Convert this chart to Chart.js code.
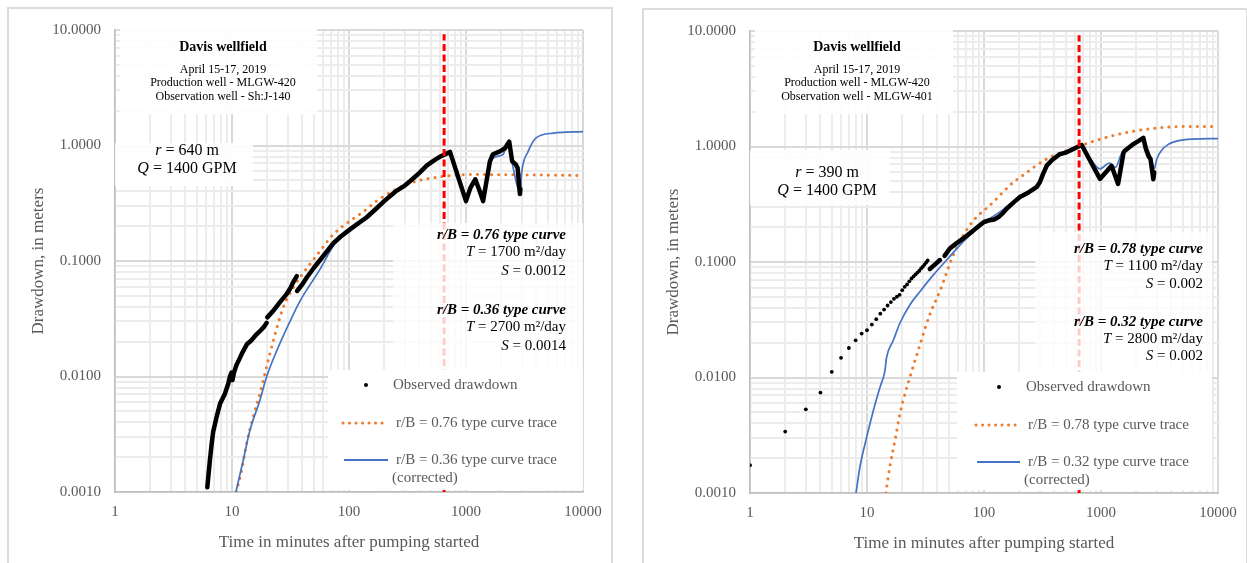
<!DOCTYPE html>
<html>
<head>
<meta charset="utf-8">
<title>Davis wellfield drawdown</title>
<script src="https://cdn.jsdelivr.net/npm/chart.js@4.4.1/dist/chart.umd.min.js"></script>
<style>
  html, body { margin: 0; padding: 0; background: #fff; }
  body { width: 1247px; height: 563px; overflow: hidden; position: relative; }
  .panel { position: absolute; width: 606px; height: 560px; }
  .frame { position: absolute; left: 0; top: 0; width: 606px; height: 560px; box-sizing: border-box; border: 2px solid #dcdcdc; }
  canvas { position: absolute; left: 0; top: 0; }
</style>
</head>
<body>
<div class="panel" style="left:7px; top:7px;"><div class="frame"></div><canvas id="chartShJ140" width="606" height="556"></canvas></div>
<div class="panel" style="left:642px; top:8px;"><div class="frame"></div><canvas id="chartMLGW401" width="606" height="556"></canvas></div>

<script>
// ---- axes ----
const xMajor = [1, 10, 100, 1000, 10000];
const yMajor = [0.001, 0.01, 0.1, 1, 10];

// ---- vertical marker (end of pumping) ----
const pumpStopT = [650, 650];
const pumpStopS = [0.001, 9.2];

// ---- Observation well Sh:J-140 (left) ----
const shObsT = [6.15, 6.27, 6.48, 6.7, 6.9, 7.4, 7.9, 8.7, 9.3, 9.6, 9.9, 10.1, 10.4, 10.9, 11.5, 12.3, 13.4, 14.6,
  16.2, 17.5, 18.6, 19.8, 19.9, 20.0, 22.5, 25.7, 29.4, 31.5, 33.5, 35.8, 35.9, 36.0, 40, 43.5, 50, 56.6, 65, 73.5,
  85, 100, 120, 141, 165, 200, 250, 300, 332, 400, 461, 530, 600, 680, 730, 1000, 1090, 1200, 1290, 1400, 1600,
  1700, 1950, 2160, 2340, 2480, 2650, 2760, 2890, 2920];
const shObsS = [0.0011, 0.00135, 0.0019, 0.0026, 0.0033, 0.0045, 0.0058, 0.0071, 0.0087, 0.0100, 0.0108, 0.0093,
  0.0108, 0.0125, 0.014, 0.0162, 0.019, 0.0205, 0.0232, 0.025, 0.0266, 0.0292, null, 0.0325, 0.037, 0.044, 0.052,
  0.058, 0.066, 0.074, null, 0.055, 0.063, 0.072, 0.087, 0.102, 0.122, 0.143, 0.163, 0.185, 0.212, 0.238, 0.275,
  0.33, 0.40, 0.45, 0.49, 0.58, 0.67, 0.74, 0.80, 0.85, 0.88, 0.33, 0.43, 0.51, 0.42, 0.33, 0.73, 0.84, 0.89,
  0.95, 1.08, 0.73, 0.69, 0.64, 0.38, 0.42];
const shDotT = [];
const shDotS = [];
const shTraceT = [10.9, 12.1, 13.3, 15.2, 17.3, 19.4, 22.6, 27.4, 33.5, 38.1, 46.4, 56.6, 73.5, 141, 172, 330, 640, 1150, 10000];
const shTraceS = [0.001, 0.00155, 0.0026, 0.0045, 0.0071, 0.0113, 0.0205, 0.0395, 0.059, 0.072, 0.094, 0.122, 0.17, 0.28, 0.33, 0.47, 0.54, 0.56, 0.55];
const shCorrT = [10.8, 12.5, 14.2, 17.3, 19.8, 24, 31.3, 38.1, 56.6, 73.5, 100, 141, 200, 250, 332, 461, 600, 700,
  1000, 1150, 1370, 1700, 2060, 2300, 2450, 2900, 3000, 3400, 3950, 5600, 10000];
const shCorrS = [0.001, 0.0019, 0.0034, 0.0062, 0.01, 0.0165, 0.030, 0.045, 0.085, 0.135, 0.18, 0.232, 0.33, 0.40,
  0.49, 0.67, 0.79, 0.85, 0.375, 0.49, 0.40, 0.78, 0.83, 1.05, 0.75, 0.40, 0.60, 0.89, 1.16, 1.28, 1.32];

// ---- Observation well MLGW-401 (right) ----
const mlDotT = [1, 2, 3, 4, 5, 6, 7, 8, 9, 10, 11, 12, 13, 14, 15, 16, 17, 18, 19, 20, 21, 22, 23, 24, 25, 26, 27, 28, 29, 30, 31, 32, 33];
const mlDotS = [0.00174, 0.0034, 0.0053, 0.0074, 0.0112, 0.0148, 0.018, 0.021, 0.024, 0.0257, 0.0287, 0.032, 0.0357,
  0.0387, 0.042, 0.045, 0.048, 0.050, 0.052, 0.057, 0.061, 0.064, 0.068, 0.072, 0.075, 0.078, 0.081, 0.084, 0.088,
  0.091, 0.095, 0.099, 0.103];
const mlObsT = [34.4, 38, 42, 44, 46, 51, 58, 66.5, 80, 92, 100, 112, 122, 133, 145, 156, 180, 203, 240, 281, 300,
  320, 344, 380, 446, 509, 580, 684, 980, 1230, 1400, 1560, 1600, 1890, 2100, 2300, 2420, 2540, 2650, 2800, 2850];
const mlObsS = [0.087, 0.095, 0.104, null, 0.113, 0.131, 0.145, 0.16, 0.185, 0.208, 0.222, 0.230, 0.233, 0.245, 0.265,
  0.289, 0.33, 0.365, 0.40, 0.444, 0.49, 0.58, 0.683, 0.76, 0.86, 0.89, 0.95, 1.03, 0.524, 0.68, 0.474, 0.89, 0.92,
  1.05, 1.12, 1.19, 0.95, 0.83, 0.78, 0.52, 0.60];
const mlTraceT = [14.5, 15.7, 17.4, 19.1, 21.1, 24.1, 28.4, 34.4, 42, 54.7, 75.6, 120, 178, 203, 344, 658, 1260, 2450, 5370, 9100];
const mlTraceS = [0.001, 0.0017, 0.0029, 0.0048, 0.0072, 0.0113, 0.0193, 0.035, 0.056, 0.115, 0.208, 0.33, 0.49, 0.54, 0.78, 1.01, 1.24, 1.41, 1.49, 1.49];
const mlCorrT = [8.05, 8.7, 9.9, 11.35, 12.9, 14.2, 14.7, 16.8, 19.1, 23.3, 28.4, 36.8, 47.9, 66.5, 92, 136, 180, 240,
  300, 344, 446, 580, 684, 800, 980, 1180, 1330, 1500, 1700, 2000, 2250, 2500, 2750, 2850, 3000, 3300, 3800, 4500, 6000, 10000];
const mlCorrS = [0.001, 0.00168, 0.003, 0.0052, 0.0082, 0.0113, 0.0149, 0.021, 0.0295, 0.0427, 0.0556, 0.077, 0.104,
  0.15, 0.208, 0.27, 0.335, 0.405, 0.50, 0.68, 0.86, 0.96, 1.02, 0.80, 0.64, 0.72, 0.66, 0.87, 0.98, 1.08, 1.17,
  0.96, 0.72, 0.64, 0.78, 0.93, 1.05, 1.12, 1.16, 1.17];

const serif = "'Liberation Serif', 'Times New Roman', serif";
const F = (style, size) => `${style} ${size}px ${serif}`.trim();
Chart.defaults.font.family = serif;

const toXY = (t, s) => t.map((v, i) => ({ x: v, y: s[i] }));
const decades = (majors) => majors.slice(0, -1)
  .flatMap(d => [1, 2, 3, 4, 5, 6, 7, 8, 9].map(k => d * k))
  .concat(majors[majors.length - 1]);

// text made of pieces with different fonts (italic symbols, bold italic headers)
function drawRich(ctx, parts, x, y, align) {
  let w = 0;
  parts.forEach(p => { ctx.font = p[1]; w += ctx.measureText(p[0]).width; });
  let cx = align === 'right' ? x - w : (align === 'center' ? x - w / 2 : x);
  parts.forEach(p => {
    ctx.font = p[1];
    ctx.fillText(p[0], cx, y);
    cx += ctx.measureText(p[0]).width;
  });
}

function notesPlugin(n) {
  return {
    id: 'notes',
    afterDatasetsDraw(chart) {
      const ctx = chart.ctx;
      ctx.save();
      n.boxes.forEach(b => {
        ctx.fillStyle = 'rgba(255,255,255,' + b[4] + ')';
        ctx.fillRect(b[0], b[1], b[2], b[3]);
      });
      ctx.textBaseline = 'middle';
      ctx.textAlign = 'left';
      n.lines.forEach(l => {
        ctx.fillStyle = l.color || '#000';
        drawRich(ctx, l.parts, l.x, l.y, l.align);
      });
      // legend samples
      const lg = n.legend;
      ctx.fillStyle = '#000';
      ctx.beginPath();
      ctx.arc(lg.dot[0], lg.dot[1], 2, 0, Math.PI * 2);
      ctx.fill();
      ctx.strokeStyle = '#ed7d31';
      ctx.lineWidth = 3;
      ctx.lineCap = 'round';
      ctx.setLineDash([0.1, 6.4]);
      ctx.beginPath();
      ctx.moveTo(lg.trace[0], lg.trace[2]);
      ctx.lineTo(lg.trace[1], lg.trace[2]);
      ctx.stroke();
      ctx.setLineDash([]);
      ctx.lineCap = 'butt';
      ctx.strokeStyle = '#4472c4';
      ctx.lineWidth = 1.8;
      ctx.beginPath();
      ctx.moveTo(lg.corr[0], lg.corr[2]);
      ctx.lineTo(lg.corr[1], lg.corr[2]);
      ctx.stroke();
      ctx.restore();
    }
  };
}

function notesFor(o) {
  const c = o.cx, g = '#595959';
  return {
    boxes: o.boxes,
    legend: o.legend,
    lines: [
      { x: c, y: o.ty, align: 'center', parts: [['Davis wellfield', F('bold', 14)]] },
      { x: c, y: o.ty + 23, align: 'center', parts: [['April 15-17, 2019', F('', 12)]] },
      { x: c, y: o.ty + 36, align: 'center', parts: [['Production well - MLGW-420', F('', 12)]] },
      { x: c, y: o.ty + 50, align: 'center', parts: [['Observation well - ' + o.well, F('', 12)]] },
      { x: o.rx, y: o.ry, align: 'center', parts: [['r', F('italic', 16)], [' = ' + o.r + ' m', F('', 16)]] },
      { x: o.rx, y: o.ry + 18, align: 'center', parts: [['Q', F('italic', 16)], [' = 1400 GPM', F('', 16)]] },
      { x: o.ax, y: o.ay[0], align: 'right', parts: [['r/B = ' + o.rb1 + ' type curve', F('italic bold', 15)]] },
      { x: o.ax, y: o.ay[1], align: 'right', parts: [['T', F('italic', 15)], [' = ' + o.T1 + ' m²/day', F('', 15)]] },
      { x: o.ax, y: o.ay[2], align: 'right', parts: [['S', F('italic', 15)], [' = ' + o.S1, F('', 15)]] },
      { x: o.ax, y: o.ay[3], align: 'right', parts: [['r/B = ' + o.rb2 + ' type curve', F('italic bold', 15)]] },
      { x: o.ax, y: o.ay[4], align: 'right', parts: [['T', F('italic', 15)], [' = ' + o.T2 + ' m²/day', F('', 15)]] },
      { x: o.ax, y: o.ay[5], align: 'right', parts: [['S', F('italic', 15)], [' = ' + o.S2, F('', 15)]] },
      { x: o.legend.dot[0] + 27, y: o.legend.dot[1], color: g, parts: [['Observed drawdown', F('', 15)]] },
      { x: o.legend.trace[1] + 9, y: o.legend.trace[2], color: g, parts: [['r/B = ' + o.rb1 + ' type curve trace', F('', 15)]] },
      { x: o.legend.corr[1] + 8, y: o.legend.corr[2], color: g, parts: [['r/B = ' + o.rb2 + ' type curve trace', F('', 15)]] },
      { x: o.legend.corr[1] + 4, y: o.legend.corr[2] + 18, color: g, parts: [['(corrected)', F('', 15)]] }
    ]
  };
}

function buildChart(id, d) {
  const xGrid = decades(xMajor);
  const yGrid = decades(yMajor);
  const gridColor = majors => c => majors.includes(c.tick.value) ? '#d9d9d9' : '#ececec';
  const tickFont = { family: serif, size: 15 };
  const titleFont = { family: serif, size: 17 };
  return new Chart(document.getElementById(id), {
    type: 'scatter',
    data: {
      datasets: [
        { label: 'End of pumping', data: toXY(pumpStopT, pumpStopS), showLine: true, borderColor: '#ff0000',
          borderWidth: 3, borderDash: [7, 3.5], pointRadius: 0 },
        { label: 'Observed drawdown', data: toXY(d.obsT, d.obsS), showLine: true, borderColor: '#000',
          borderWidth: 4.5, borderJoinStyle: 'round', borderCapStyle: 'round', pointRadius: 0 },
        { label: 'Observed drawdown (early)', data: toXY(d.dotT, d.dotS), showLine: false,
          backgroundColor: '#000', borderWidth: 0, pointRadius: 1.9 },
        { label: 'Corrected type curve trace', data: toXY(d.corrT, d.corrS), showLine: true, borderColor: '#4472c4',
          borderWidth: 1.7, cubicInterpolationMode: 'monotone', pointRadius: 0 },
        { label: 'Type curve trace', data: toXY(d.traceT, d.traceS), showLine: true, borderColor: '#ed7d31',
          borderWidth: 3, borderDash: [0.1, 7], borderCapStyle: 'round', cubicInterpolationMode: 'monotone', pointRadius: 0 }
      ]
    },
    options: {
      responsive: false,
      animation: false,
      events: [],
      layout: { padding: { left: 17, top: d.top, right: 30, bottom: 6 } },
      plugins: { legend: { display: false }, tooltip: { enabled: false } },
      scales: {
        x: {
          type: 'logarithmic', min: 1, max: 10000,
          afterFit: s => { s.height = 65; },
          afterBuildTicks: s => { s.ticks = xGrid.map(v => ({ value: v })); },
          ticks: { autoSkip: false, maxRotation: 0, padding: 11, color: '#595959', font: tickFont,
            callback: v => xMajor.includes(v) ? String(v) : '' },
          grid: { drawTicks: false, color: gridColor(xMajor), lineWidth: 2 },
          border: { display: true, color: '#bfbfbf', width: 1.5 },
          title: { display: true, text: 'Time in minutes after pumping started', color: '#595959', font: titleFont }
        },
        y: {
          type: 'logarithmic', min: 0.001, max: 10,
          afterFit: s => { s.width = 91; },
          afterBuildTicks: s => { s.ticks = yGrid.map(v => ({ value: v })); },
          ticks: { autoSkip: false, padding: 14, color: '#595959', font: tickFont,
            callback: v => yMajor.includes(v) ? v.toFixed(4) : '' },
          grid: { drawTicks: false, color: gridColor(yMajor), lineWidth: 2 },
          border: { display: true, color: '#bfbfbf', width: 1.5 },
          title: { display: true, text: 'Drawdown, in meters', color: '#595959', font: titleFont }
        }
      }
    },
    plugins: [notesPlugin(d.notes)]
  });
}

document.addEventListener('DOMContentLoaded', function () {
  "use strict";

  buildChart('chartShJ140', {
    top: 21,
    obsT: shObsT, obsS: shObsS, dotT: shDotT, dotS: shDotS,
    traceT: shTraceT, traceS: shTraceS, corrT: shCorrT, corrS: shCorrS,
    notes: notesFor({
      well: 'Sh:J-140', r: 640, rb1: '0.76', T1: 1700, S1: '0.0012', rb2: '0.36', T2: 2700, S2: '0.0014',
      cx: 216, ty: 40, rx: 180, ry: 144, ax: 559, ay: [228, 245, 264, 303, 320, 339],
      boxes: [[113, 22, 197, 85, 0.9], [108, 136, 138, 43, 0.9], [386, 216, 190, 149, 0.8], [321, 363, 255, 120, 1]],
      legend: { dot: [359, 378], trace: [336, 380, 416], corr: [337, 381, 453] }
    })
  });

  buildChart('chartMLGW401', {
    top: 20,
    obsT: mlObsT, obsS: mlObsS, dotT: mlDotT, dotS: mlDotS,
    traceT: mlTraceT, traceS: mlTraceS, corrT: mlCorrT, corrS: mlCorrS,
    notes: notesFor({
      well: 'MLGW-401', r: 390, rb1: '0.78', T1: 1100, S1: '0.002', rb2: '0.32', T2: 2800, S2: '0.002',
      cx: 215, ty: 39, rx: 185, ry: 165, ax: 561, ay: [241, 258, 276, 314, 331, 348],
      boxes: [[113, 20, 198, 86, 0.9], [108, 142, 140, 55, 0.9], [393, 224, 177, 140, 0.8], [315, 364, 255, 118, 1]],
      legend: { dot: [357, 379], trace: [334, 377, 417], corr: [335, 378, 454] }
    })
  });
});
</script>
</body>
</html>
